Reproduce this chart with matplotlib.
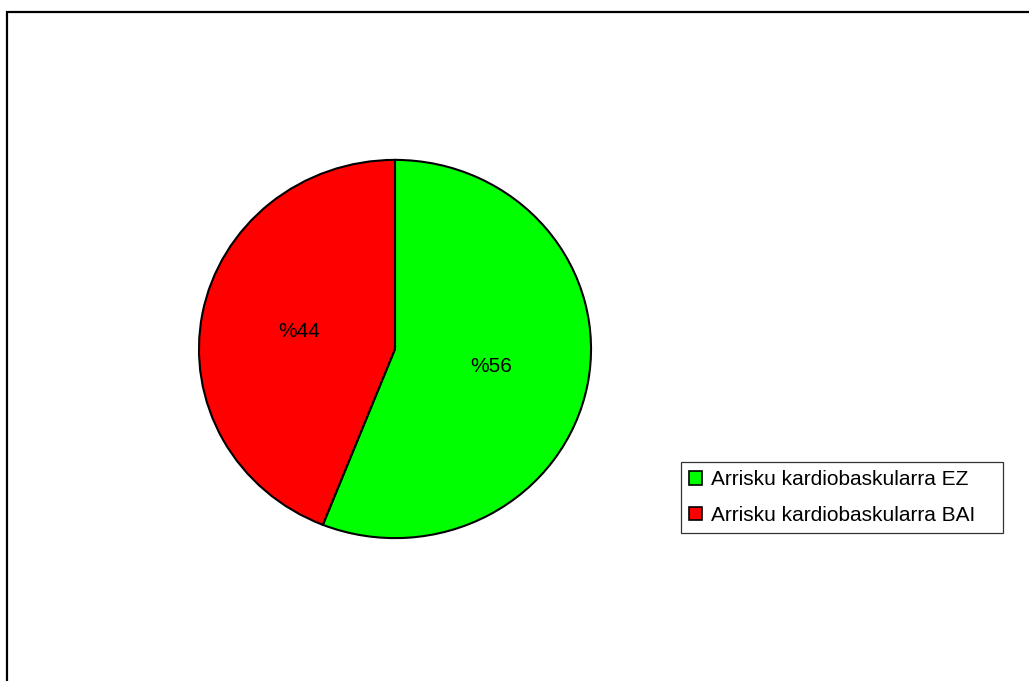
import matplotlib
matplotlib.use("Agg")
import matplotlib.pyplot as plt
from matplotlib.patches import Patch, Rectangle

plt.rcParams['font.family'] = ['Liberation Sans', 'DejaVu Sans']

categories = ["Arrisku kardiobaskularra EZ", "Arrisku kardiobaskularra BAI"]
values = [56, 44]
colors = ["#00ff00", "#ff0000"]

W, H = 1029, 681
fig = plt.figure(figsize=(W / 100, H / 100), dpi=100)

# outer chart frame (runs off the right and bottom edges)
fig.patches.append(Rectangle((7 / W, -0.05), 1.2, 1 - 12 / H + 0.05,
                             transform=fig.transFigure, fill=False,
                             edgecolor="black", linewidth=1.6))

# pie axes: slightly wider than tall
cx, cy, rx, ry = 395, 349, 198, 191
ax = fig.add_axes([(cx - rx) / W, (H - cy - ry) / H, 2 * rx / W, 2 * ry / H])
wedges, texts, autotexts = ax.pie(
    values, colors=colors, startangle=90, counterclock=False,
    autopct=lambda p: f"%{p:.0f}", pctdistance=0.5,
    wedgeprops=dict(edgecolor="black", linewidth=1.5),
    textprops=dict(fontsize=15, color="black"))
ax.set_aspect("auto")
ax.set_xlim(-1.01, 1.01)
ax.set_ylim(-1.01, 1.01)

# legend box spans a fixed width to the right of the pie
handles = [Patch(facecolor=c, edgecolor="black", linewidth=1.2) for c in colors]
leg = fig.legend(handles, categories, loc="upper left", mode="expand",
                 bbox_to_anchor=(681 / W, 1 - 531 / H, 322 / W, 69 / H),
                 borderaxespad=0,
                 fancybox=False, frameon=True, edgecolor="black",
                 fontsize=15, handlelength=0.62, handleheight=0.62,
                 handletextpad=0.42, labelspacing=0.78, borderpad=0.4)
leg.get_frame().set_linewidth(0.9)

fig.savefig("out.png", dpi=100, facecolor="white")
